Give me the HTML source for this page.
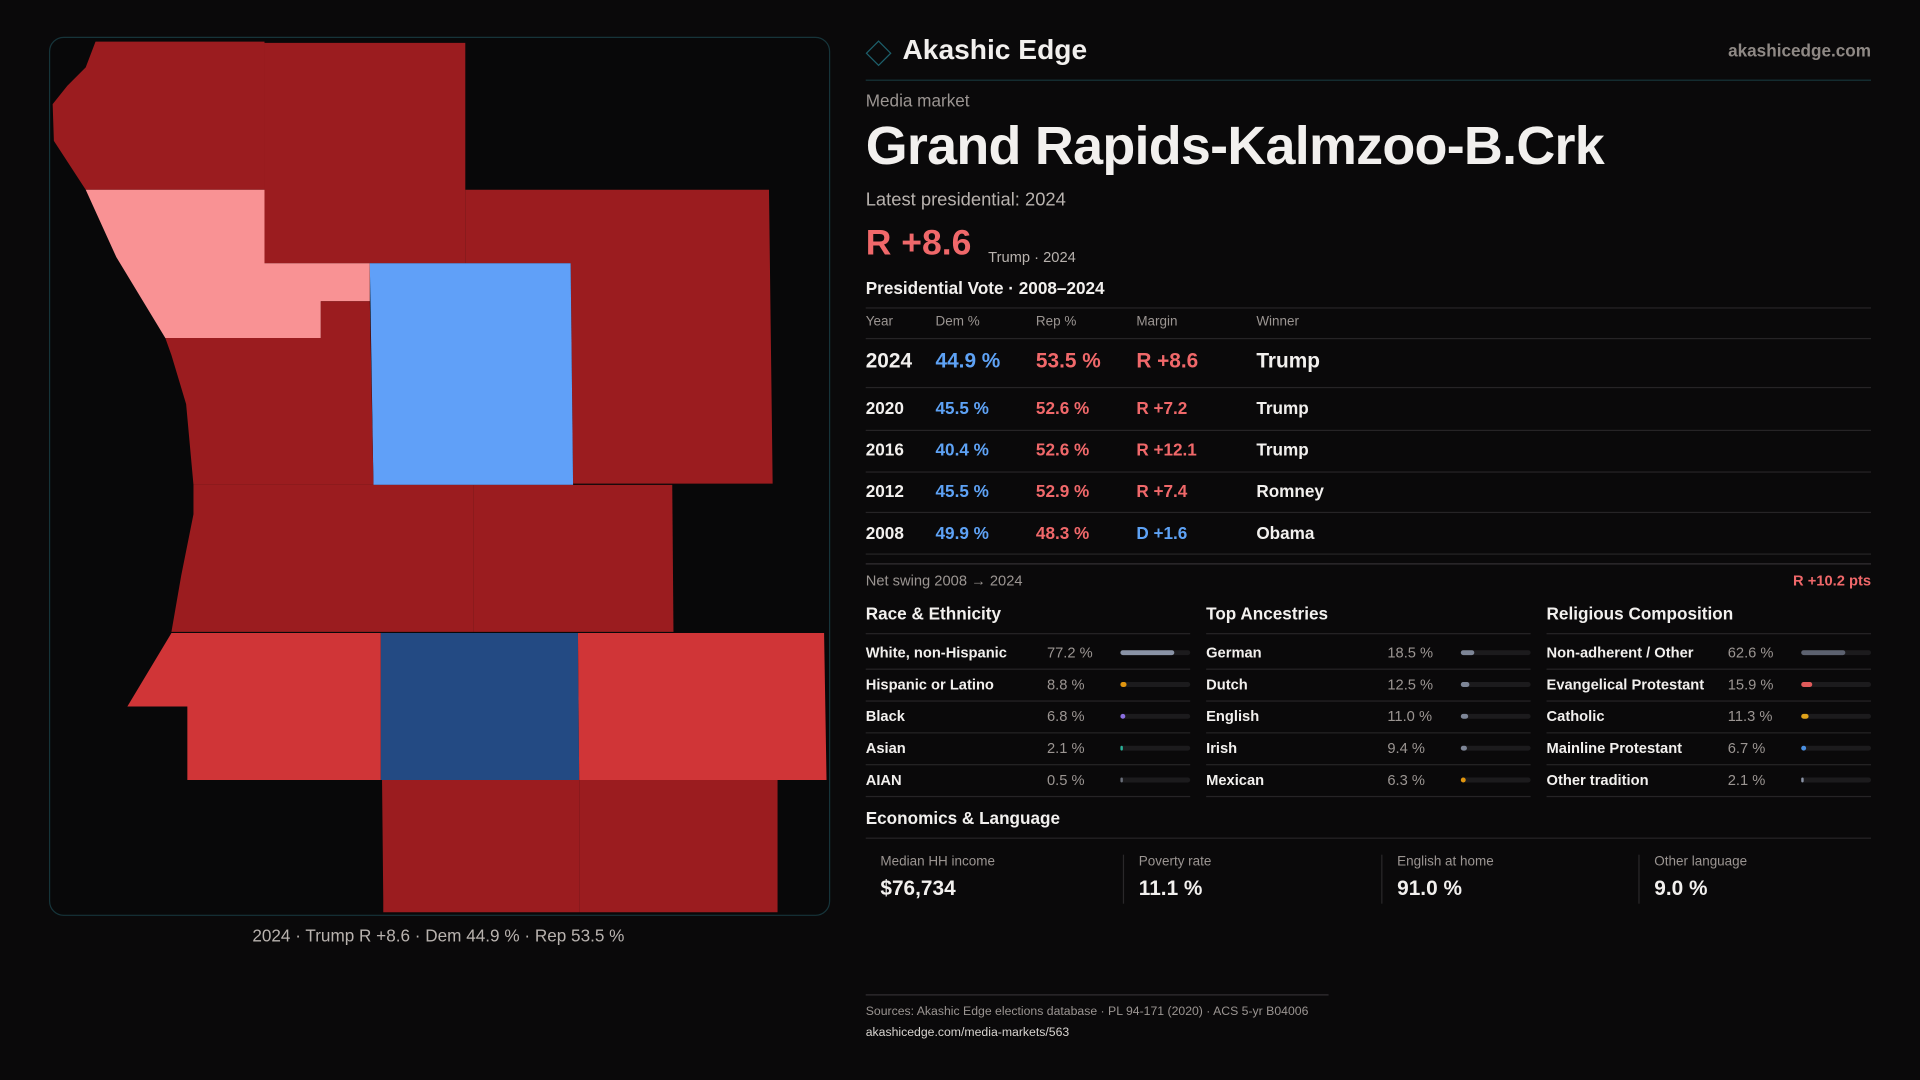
<!DOCTYPE html>
<html><head><meta charset="utf-8">
<style>
html,body{margin:0;padding:0;background:#0a090a;}
body{width:1920px;height:1080px;overflow:hidden;font-family:"Liberation Sans",sans-serif;}
#stage{position:absolute;left:0;top:0;width:1568px;height:882px;transform:scale(1.22449);transform-origin:0 0;color:#f2f0ee;}
.a{position:absolute;white-space:nowrap;}
.ln{position:absolute;height:1px;background:#262426;}
.mut{color:#9b9592;}
.red{color:#f0686a;}
.blu{color:#5ea2f5;}
</style></head>
<body>
<div id="stage">
  <div class="a" style="left:40px;top:30px;width:636px;height:716px;border:1px solid #16343a;border-radius:12px;background:#080809;"></div>
  <svg class="a" style="left:0;top:0" width="700" height="760">
    <polygon fill="#9b1c1f" points="78,34 216,34 216,155 70,155 44,115 43,85 55,70 70,55"/>
    <polygon fill="#9b1c1f" points="216,35 380,35 380,215 216,215"/>
    <polygon fill="#f99294" points="70,155 216,155 216,215 302,215 302,246 262,246 262,276 135,276 95,210"/>
    <polygon fill="#9b1c1f" points="380,155 628,155 631,395 468,395 466,215 380,215"/>
    <polygon fill="#60a0f8" points="302,215 466,215 468,396 305,396"/>
    <polygon fill="#9b1c1f" points="135,276 262,276 262,246 302,246 305,396 158,396 152,330 140,290"/>
    <polygon fill="#9b1c1f" points="158,396 387,396 387,516 140,516 148,470 158,420"/>
    <polygon fill="#9b1c1f" points="387,396 549,396 550,516 387,516"/>
    <polygon fill="#d03537" points="140,517 311,517 311,637 153,637 153,577 104,577"/>
    <polygon fill="#234a83" points="311,517 472,517 473,637 311,637"/>
    <polygon fill="#d03537" points="472,517 673,517 675,637 473,637"/>
    <polygon fill="#9b1c1f" points="312,637 473,637 473,745 313,745 313,735"/>
    <polygon fill="#9b1c1f" points="473,637 635,637 635,745 473,745"/>
  </svg>
  <div class="a mut" style="left:40px;width:636px;top:756px;text-align:center;font-size:14px;color:#b8b2ae;">2024 · Trump R +8.6 · Dem 44.9 % · Rep 53.5 %</div>

  <div class="a" style="left:710px;top:36px;width:13px;height:13px;border:1.5px solid #1d5f6b;transform:rotate(45deg);"></div>
  <div class="a" style="left:737px;top:27px;font-size:23px;font-weight:bold;">Akashic Edge</div>
  <div class="a mut" style="right:40px;top:33px;font-size:14px;font-weight:bold;color:#8f8985;">akashicedge.com</div>
  <div class="ln" style="left:707px;width:821px;top:65px;background:#16343a;"></div>
  <div class="a mut" style="left:707px;top:74px;font-size:14px;">Media market</div>
  <div class="a" style="left:707px;top:95px;font-size:44px;font-weight:bold;letter-spacing:-0.6px;">Grand Rapids-Kalmzoo-B.Crk</div>
  <div class="a" style="left:707px;top:155px;font-size:15px;color:#b8b2ae;">Latest presidential: 2024</div>
  <div class="a red" style="left:707px;top:183px;font-size:29px;font-weight:bold;">R +8.6</div>
  <div class="a" style="left:807px;top:203px;font-size:12px;color:#b8b2ae;">Trump · 2024</div>
  <div class="a" style="left:707px;top:227px;font-size:14px;font-weight:bold;">Presidential Vote · 2008–2024</div>
  <div id="tbl"></div>
  <div class="ln" style="left:707px;width:821px;top:460px;background:#333033;"></div>
  <div class="a mut" style="left:707px;top:467px;font-size:12px;">Net swing 2008 → 2024</div>
  <div class="a red" style="right:40px;top:467px;font-size:12px;font-weight:bold;">R +10.2 pts</div>
  <div id="demo"></div>
  <div class="a" style="left:707px;top:660px;font-size:14px;font-weight:bold;">Economics &amp; Language</div>
  <div class="ln" style="left:707px;width:821px;top:684px;"></div>
  <div id="econ"></div>
  <div class="ln" style="left:707px;width:378px;top:812px;background:#333033;"></div>
  <div class="a mut" style="left:707px;top:821px;font-size:10px;">Sources: Akashic Edge elections database · PL 94-171 (2020) · ACS 5-yr B04006</div>
  <div class="a" style="left:707px;top:838px;font-size:10px;color:#d8d4d0;">akashicedge.com/media-markets/563</div>
</div>
<script>
const years=["2024","2020","2016","2012","2008"];
const demPct=[44.9,45.5,40.4,45.5,49.9];
const repPct=[53.5,52.6,52.6,52.9,48.3];
const margins=[8.6,7.2,12.1,7.4,-1.6];
const winners=["Trump","Trump","Trump","Romney","Obama"];
const raceLabels=["White, non-Hispanic","Hispanic or Latino","Black","Asian","AIAN"];
const raceVals=[77.2,8.8,6.8,2.1,0.5];
const ancLabels=["German","Dutch","English","Irish","Mexican"];
const ancVals=[18.5,12.5,11.0,9.4,6.3];
const relLabels=["Non-adherent / Other","Evangelical Protestant","Catholic","Mainline Protestant","Other tradition"];
const relVals=[62.6,15.9,11.3,6.7,2.1];
const econLabels=["Median HH income","Poverty rate","English at home","Other language"];
const econVals=["$76,734","11.1 %","91.0 %","9.0 %"];

function mk(parent,cls,style,text){const d=document.createElement('div');d.className=cls;d.style.cssText=style;if(text!==undefined)d.textContent=text;parent.appendChild(d);return d;}
const tbl=document.getElementById('tbl');
const cols=[707,764,846,928,1026];
["Year","Dem %","Rep %","Margin","Winner"].forEach((h,i)=>{
  const e=mk(tbl,'a mut','left:'+cols[i]+'px;top:257px;font-size:11px;',h);
  
  
});
[251,276].forEach(y=>mk(tbl,'ln','left:707px;width:821px;top:'+y+'px;'));
const rowY=[295,333,367,401,435];
const rowLine=[316,351,385,418,452];
years.forEach((y,i)=>{
  const big=i===0;const fs=big?17:14;const top=rowY[i]-fs*0.6;
  const m=margins[i];
  const mTxt=(m>=0?'R +':'D +')+Math.abs(m).toFixed(1);
  const vals=[y,demPct[i].toFixed(1)+' %',repPct[i].toFixed(1)+' %',mTxt,winners[i]];
  const colr=['#f2f0ee','#5ea2f5','#f0686a',m>=0?'#f0686a':'#5ea2f5','#f2f0ee'];
  vals.forEach((v,j)=>{
    const e=mk(tbl,'a','left:'+cols[j]+'px;top:'+top+'px;font-size:'+fs+'px;color:'+colr[j]+';font-weight:bold;',v);
    
    
  });
  mk(tbl,'ln','left:707px;width:821px;top:'+rowLine[i]+'px;');
});
const demo=document.getElementById('demo');
const sections=[["Race & Ethnicity",raceLabels,raceVals,["#8a93a6","#e0950f","#8b6fe0","#2bb39a","#6a6f7a"]],
["Top Ancestries",ancLabels,ancVals,["#7d8596","#7d8596","#7d8596","#7d8596","#e0950f"]],
["Religious Composition",relLabels,relVals,["#5d6270","#e05a5a","#e0a21a","#4a8fe0","#8a93a6"]]];
const sx=[707,985,1263];
sections.forEach((s,k)=>{
  const x=sx[k];
  const t=mk(demo,'a','left:'+x+'px;top:493px;font-size:14px;font-weight:bold;',s[0]);
  
  
  mk(demo,'ln','left:'+x+'px;width:265px;top:517px;');
  s[1].forEach((lab,i)=>{
    const cy=533+i*26;
    const l=mk(demo,'a','left:'+x+'px;top:'+(cy-7)+'px;font-size:12px;font-weight:bold;',lab);
    
    
    const v=mk(demo,'a mut','left:'+(x+148)+'px;top:'+(cy-7)+'px;font-size:12px;',s[2][i].toFixed(1)+' %');
    
    
    const tr=mk(demo,'a','left:'+(x+208)+'px;top:'+(cy-2)+'px;width:57px;height:4px;border-radius:2px;background:#1c1b1d;');
    
    
    const w=Math.max(1.5,57*s[2][i]/100);
    const b=mk(demo,'a','left:'+(x+208)+'px;top:'+(cy-2)+'px;width:'+w+'px;height:4px;border-radius:2px;background:'+s[3][i]+';');
    
    
    mk(demo,'ln','left:'+x+'px;width:265px;top:'+(cy+13)+'px;');
  });
});
const econ=document.getElementById('econ');
const ex=[707,917,1128,1338];
econLabels.forEach((lab,i)=>{
  const c=mk(econ,'a','left:'+ex[i]+'px;top:698px;width:190px;height:40px;'+(i>0?'border-left:1px solid #2a282a;':''));
  
  
  mk(c,'a mut','left:12px;top:0;font-size:11px;',lab);
  mk(c,'a','left:12px;top:18px;font-size:17px;font-weight:bold;',econVals[i]);
});
</script>
</body></html>
